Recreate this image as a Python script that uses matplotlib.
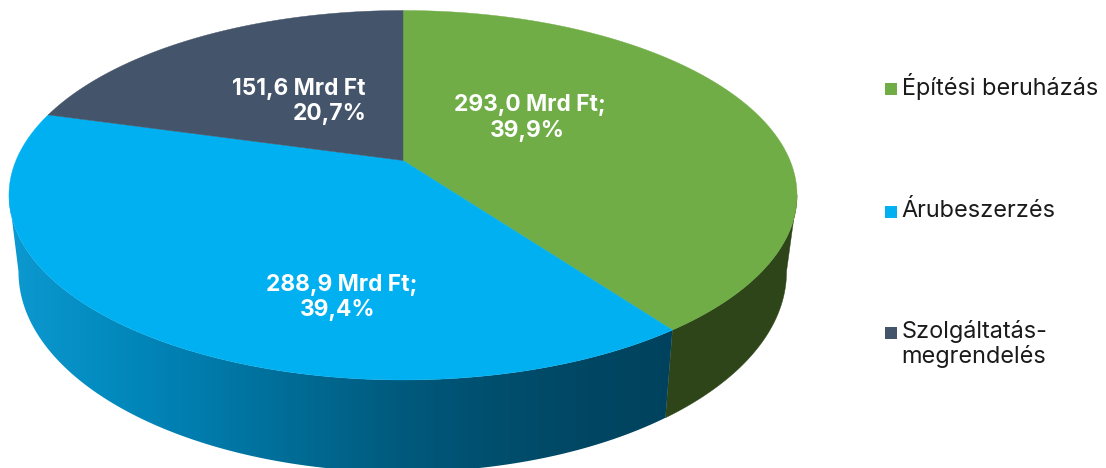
import numpy as np
from matplotlib import pyplot as plt
from matplotlib.patches import Polygon, Rectangle

plt.rcParams["font.family"] = ["Inter", "DejaVu Sans"]

categories = ["Építési beruházás", "Árubeszerzés", "Szolgáltatás-\nmegrendelés"]
amounts = [293.0, 288.9, 151.6]
slice_labels = ["293,0 Mrd Ft;\n39,9%", "288,9 Mrd Ft;\n39,4%", "151,6 Mrd Ft\n20,7%"]

top_colors = ["#70ad47", "#00b0f0", "#44546a"]
green_side = "#2e4419"

# light to dark along x for the blue wall
grad_x = [15, 100, 200, 300, 400, 500, 600, 680]
grad_rgb = np.array([[12, 152, 208], [3, 140, 192], [0, 124, 173], [0, 107, 148],
                     [0, 90, 125], [0, 78, 109], [0, 70, 98], [0, 66, 93]]) / 255


def disc(t, cx, cy, m, k, c):
    # circle seen in perspective, t clockwise from the top
    u, v = np.sin(t), np.cos(t)
    w = 1 + c * v
    return cx + m * u / w, cy - k * v / w


def top_disc(t):
    return disc(t, 403, 160.5, 387, 178.2, 0.188)


def base_disc(t):
    return disc(t, 402.5, 234, 377, 192.8, 0.19)


def wall(t0, t1):
    t = np.linspace(t0, t1, 300)
    xt, yt = top_disc(t)
    xb, yb = base_disc(t)
    return np.column_stack([np.r_[xt, xb[::-1]], np.r_[yt, yb[::-1]]])


fig = plt.figure(figsize=(11.06, 4.68), dpi=100)
ax = fig.add_axes([0, 0, 1, 1])

edges = np.cumsum([0] + amounts) / sum(amounts) * 2 * np.pi

# the walls stop where the disc is widest, behind that the top face hides them
right_ext = np.pi - np.arccos(0.188)
left_ext = np.pi + np.arccos(0.188)

ax.add_patch(Polygon(wall(right_ext, edges[1]), fc=green_side, ec=green_side, lw=0.3, zorder=2))

xs = np.arange(0, 1106)
shade = np.column_stack([np.interp(xs, grad_x, grad_rgb[:, n]) for n in range(3)])
img = ax.imshow(shade[np.newaxis, :, :], extent=(0, 1106, 468, 0), aspect="auto", zorder=2)
clip = Polygon(wall(edges[1], left_ext), fc="none", ec="none", transform=ax.transData)
ax.add_patch(clip)
img.set_clip_path(clip)

ax.set(xlim=(0, 1106), ylim=(468, 0))
ax.axis("off")

# top face
for i in range(3):
    t = np.linspace(edges[i], edges[i + 1], 300)
    xt, yt = top_disc(t)
    pts = np.column_stack([np.r_[403, xt], np.r_[160.5, yt]])
    ax.add_patch(Polygon(pts, fc=top_colors[i], ec=top_colors[i], lw=0.3, zorder=3))

label_x = [530, 342, 366]
label_x2 = [527, 338, 367]
label_y = [111.5, 291, 95]
aligns = ["center", "center", "right"]
for i in range(3):
    first, second = slice_labels[i].split("\n")
    ax.text(label_x[i], label_y[i], first, color="white", fontsize=16.4, fontweight="bold",
            ha=aligns[i], va="baseline", zorder=5)
    ax.text(label_x2[i], label_y[i] + 25, second, color="white", fontsize=16.4, fontweight="bold",
            ha=aligns[i], va="baseline", zorder=5)

# legend by hand, entries are far apart and not evenly filled
legend_box = [83, 206, 327]
legend_base = [95, 217, 338]
for i in range(3):
    ax.add_patch(Rectangle((885, legend_box[i]), 12, 12, fc=top_colors[i], ec="none"))
    for n, line in enumerate(categories[i].split("\n")):
        ax.text(901.5, legend_base[i] + n * 25, line, color="#1a1a1a", fontsize=16.9,
                ha="left", va="baseline")

fig.savefig("out.png", dpi=100)
